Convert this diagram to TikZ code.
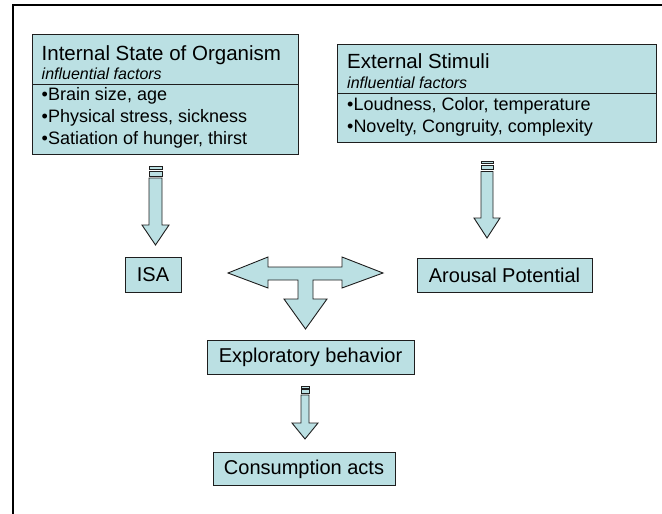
\documentclass[tikz,border=0pt]{standalone}
\usepackage{fontspec}
\setmainfont{Liberation Sans}
\definecolor{boxfill}{RGB}{187,224,227}
\definecolor{edge}{RGB}{30,30,30}
\tikzset{
  fbox/.style={draw=edge, fill=boxfill, line width=0.9pt},
  shp/.style={draw=edge, fill=boxfill, line width=0.9pt, line join=miter},
  ttl/.style={anchor=base west, inner sep=0pt, font=\fontsize{20.5}{24}\selectfont},
  sub/.style={anchor=base west, inner sep=0pt, font=\fontsize{16}{19}\selectfont\itshape},
  bul/.style={anchor=base west, inner sep=0pt, font=\fontsize{18}{21}\selectfont},
  lbl/.style={fbox, anchor=center, inner sep=0pt, font=\fontsize{20}{24}\selectfont}
}
\begin{document}
\begin{tikzpicture}[x=1pt,y=-1pt]
\useasboundingbox (0,0) rectangle (662,514);
% frame
\draw[line width=1.3pt, black] (13,514) -- (13,5) -- (662,5);

% left box
\draw[fbox] (32,34) rectangle (298,154);
\draw[edge, line width=0.9pt] (32,84) -- (298,84);
\node[ttl] (lt) at (41.5,60) {Internal State of Organism};
\node[sub] (ls) at (41.5,79) {influential factors};
\node[bul] (lb1) at (41.5,100.5) {•Brain size, age};
\node[bul] (lb2) at (41.5,122.5) {•Physical stress, sickness};
\node[bul] (lb3) at (41.5,144.5) {•Satiation of hunger, thirst};

% right box
\draw[fbox] (337,44) rectangle (656,142);
\draw[edge, line width=0.9pt] (337,93) -- (656,93);
\node[ttl] (rt) at (347,68.5) {External Stimuli};
\node[sub] (rs) at (347,88) {influential factors};
\node[bul] (rb1) at (347,110.5) {•Loudness, Color, temperature};
\node[bul] (rb2) at (347,132) {•Novelty, Congruity, complexity};

% left striped arrow
\draw[shp] (149,166.5) rectangle (162,169.5);
\draw[shp] (149,171) rectangle (162,176);
\draw[shp] (149,178) -- (162,178) -- (162,225) -- (169,225) -- (155.5,245) -- (142,225) -- (149,225) -- cycle;

% right striped arrow
\draw[shp] (481,161) rectangle (493,163.5);
\draw[shp] (481,165) rectangle (493,169.5);
\draw[shp] (481,171.5) -- (493,171.5) -- (493,218) -- (500,218) -- (487,238) -- (474,218) -- (481,218) -- cycle;

% small boxes
\node[lbl, minimum width=56pt, minimum height=35pt] (isa) at (153,274.5) {ISA};
\node[lbl, minimum width=175pt, minimum height=34pt] (ap) at (504.5,275) {Arousal Potential};
\node[lbl, minimum width=207pt, minimum height=34pt] (eb) at (310.5,357.5) {Exploratory behavior};
\node[lbl, minimum width=182pt, minimum height=33pt] (ca) at (304,469) {Consumption acts};

% T-shaped arrow
\draw[shp] (228,273) -- (268,257) -- (268,267) -- (342,267) -- (342,257) -- (383,273)
  -- (342,288) -- (342,280) -- (313,280) -- (313,299) -- (327,299) -- (305.5,329)
  -- (284,299) -- (298,299) -- (298,280) -- (268,280) -- (268,288) -- cycle;

% small striped arrow
\draw[shp] (301,386) rectangle (309,388.5);
\draw[shp] (301,389.5) rectangle (309,393);
\draw[shp] (301,395) -- (309,395) -- (309,423) -- (318,423) -- (305,439) -- (292,423) -- (301,423) -- cycle;
\end{tikzpicture}
\end{document}
